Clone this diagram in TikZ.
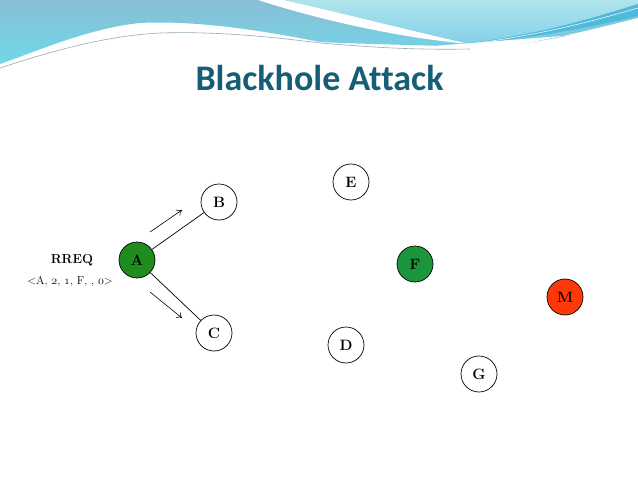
\documentclass[tikz,border=0pt]{standalone}
\usepackage{fontspec}
\newfontfamily\titlefont{Carlito}[Ligatures=NoCommon]
\usetikzlibrary{arrows.meta}
\definecolor{titleteal}{RGB}{21,94,117}
\definecolor{bandtop}{RGB}{138,190,214}
\definecolor{bandbot}{RGB}{110,216,232}
\definecolor{lighttop}{RGB}{176,228,236}
\definecolor{lightbot}{RGB}{130,208,234}
\definecolor{swoosh}{RGB}{80,186,220}
\definecolor{greyline}{RGB}{150,170,180}
\definecolor{nodegreenA}{RGB}{30,140,30}
\definecolor{nodegreenF}{RGB}{28,150,60}
\definecolor{nodered}{RGB}{255,56,10}
\newcommand{\osn}[1]{{\usefont{OML}{cmm}{m}{it}#1}}
\tikzset{
  netnode/.style={circle,draw=black,line width=0.7pt,minimum size=36pt,inner sep=0pt,
    font=\fontsize{15}{17}\selectfont\bfseries},
  link/.style={line width=0.7pt},
  flow/.style={line width=0.6pt,-{To[length=5pt,width=7pt]}},
  lbl/.style={font=\fontsize{11.5}{14}\selectfont}
}
\begin{document}
\begin{tikzpicture}[x=1pt,y=-1pt]
\useasboundingbox (0,0) rectangle (638,479);
\fill[white] (0,0) rectangle (638,479);
% header: middle band
\shade[top color=bandtop,bottom color=bandbot]
  (0,0) -- (638,0) -- (638,18)
  .. controls (580,35) and (520,47) .. (470,47)
  .. controls (420,45) and (360,44) .. (320,42)
  .. controls (270,32) and (200,20) .. (140,23)
  .. controls (90,28) and (40,50) .. (0,64) -- cycle;
% white stripe
\fill[white] (258,0) -- (284,0)
  .. controls (330,10) and (400,28) .. (470,44)
  .. controls (400,38) and (320,20) .. (258,0) -- cycle;
% right light region
\shade[top color=lighttop,bottom color=lightbot]
  (284,0) -- (638,0) -- (638,4)
  .. controls (580,22) and (520,40) .. (470,44)
  .. controls (400,28) and (330,10) .. (284,0) -- cycle;
% blue swoosh at right
\fill[swoosh]
  (430,47) .. controls (510,42) and (580,30) .. (638,16)
  -- (638,4) .. controls (580,22) and (520,40) .. (430,47) -- cycle;
\draw[white,line width=0.5pt] (450,46) .. controls (530,38) and (590,22) .. (638,8);
% white area under band
\fill[white] (0,66) .. controls (40,52) and (90,30) .. (140,25)
  .. controls (200,22) and (270,34) .. (320,44)
  .. controls (380,48) and (420,50) .. (470,49)
  .. controls (530,46) and (590,30) .. (638,18) -- (638,30) -- (0,80) -- cycle;
% thin grey line
\draw[greyline,line width=0.6pt] (0,68) .. controls (40,55) and (100,36) .. (160,33)
  .. controls (220,31) and (280,38) .. (320,43)
  .. controls (380,48) and (420,50) .. (470,49);
% title
\node[text=titleteal,font=\titlefont\bfseries\fontsize{36}{40}\selectfont,anchor=base]
  (title) at (319.5,90) {Blackhole Attack};
% nodes
\node[netnode,fill=nodegreenA] (A) at (137,260) {A};
\node[netnode,fill=white] (B) at (219,202) {B};
\node[netnode,fill=white] (C) at (214,333) {C};
\node[netnode,fill=white] (E) at (351,182) {E};
\node[netnode,fill=nodegreenF] (F) at (415,264) {F};
\node[netnode,fill=nodered] (M) at (565,297) {M};
\node[netnode,fill=white] (D) at (346,345) {D};
\node[netnode,fill=white] (G) at (479,374) {G};
% links
\draw[link] (A) -- (B);
\draw[link] (A) -- (C);
% flow arrows
\coordinate (a1s) at (150,232);
\coordinate (a1e) at (182,210);
\coordinate (a2s) at (150,292);
\coordinate (a2e) at (182,318);
\draw[flow] (a1s) -- (a1e);
\draw[flow] (a2s) -- (a2e);
% labels
\node[lbl,font=\fontsize{13}{15}\selectfont\bfseries] (rreq) at (72,260) {RREQ};
\node[lbl] (msg) at (70,282) {\textless A, \osn{2}, \osn{1}, F, , \osn{0}\textgreater};
\end{tikzpicture}
\end{document}
